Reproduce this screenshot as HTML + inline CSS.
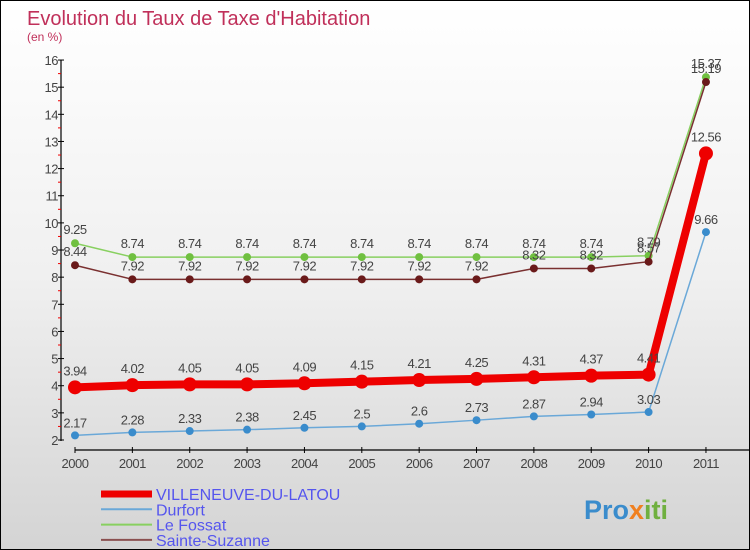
<!DOCTYPE html>
<html><head><meta charset="utf-8"><style>
body{margin:0}
#c{width:748px;height:548px;border:1px solid #000;background:linear-gradient(#fff,#f0f0f0 50%,#d4d4d4);position:relative;overflow:hidden;font-family:"Liberation Sans",sans-serif}
</style></head><body>
<div id="c">
<svg id="s" width="748" height="548" xmlns="http://www.w3.org/2000/svg"></svg>
</div>
<script>
const years=["2000","2001","2002","2003","2004","2005","2006","2007","2008","2009","2010","2011"];
const villeneuve=[3.94,4.02,4.05,4.05,4.09,4.15,4.21,4.25,4.31,4.37,4.41,12.56];
const durfort=[2.17,2.28,2.33,2.38,2.45,2.5,2.6,2.73,2.87,2.94,3.03,9.66];
const lefossat=[9.25,8.74,8.74,8.74,8.74,8.74,8.74,8.74,8.74,8.74,8.79,15.37];
const sainteSuzanne=[8.44,7.92,7.92,7.92,7.92,7.92,7.92,7.92,8.32,8.32,8.57,15.19];
const yTicks=[2,3,4,5,6,7,8,9,10,11,12,13,14,15,16];
const s=document.getElementById('s');const NS="http://www.w3.org/2000/svg";
function X(i){return 74+i*57.36}
function Y(v){return 439-(v-2)*27.14}
function el(t,a,txt){const e=document.createElementNS(NS,t);for(const k in a)e.setAttribute(k,a[k]);if(txt!=null)e.textContent=txt;s.appendChild(e);return e}
let e;
e=el('text',{x:26,y:24,'font-size':20,fill:'#c0305a'},"Evolution du Taux de Taxe d'Habitation");

e=el('text',{x:26,y:40,'font-size':12,fill:'#c0305a'},"(en %)");

e=el('line',{x1:60,y1:59,x2:60,y2:440,stroke:'#000','stroke-width':1.2});

e=el('line',{x1:74,y1:449,x2:748,y2:449,stroke:'#000','stroke-width':1.2});

yTicks.forEach(v=>{
 el('line',{x1:57,x2:63,y1:Y(v),y2:Y(v),stroke:'#000'});
 if(v<16){el('line',{x1:57,x2:60,y1:Y(v+0.5),y2:Y(v+0.5),stroke:'#e00'});}
 e=el('text',{x:57,y:Y(v)+5,'font-size':13,fill:'#444','text-anchor':'end','letter-spacing':'-0.5'},String(v));
 
});
years.forEach((y,i)=>{
 el('line',{x1:X(i),x2:X(i),y1:446,y2:452,stroke:'#000'});
 e=el('text',{x:X(i),y:467,'font-size':13,fill:'#444','text-anchor':'middle','letter-spacing':'-0.5'},y);
 
});
function series(data,color,w,r,name,dotFill,off){
 e=el('polyline',{points:data.map((v,i)=>X(i)+','+Y(v)).join(' '),fill:'none',stroke:color,'stroke-width':w,'stroke-linejoin':'round'});
 
 data.forEach((v,i)=>{
  e=el('circle',{cx:X(i),cy:Y(v),r:r,fill:dotFill});
  
  e=el('text',{x:X(i),y:Y(v)-r-off,'font-size':13,fill:'#444','text-anchor':'middle','letter-spacing':'-0.5'},String(v));
  
 });
}
series(lefossat,'#88d060',1.5,4,'le-fossat','#70c040',5);
series(sainteSuzanne,'#7a3030',1.5,4,'sainte-suzanne','#6a1a1a',5);
series(durfort,'#6aa8d8',1.5,4,'durfort','#3a8ccc',4);
series(villeneuve,'#ee0000',8,7,'villeneuve','#ee0000',5);
const leg=[["VILLENEUVE-DU-LATOU","#ee0000",7],["Durfort","#6aa8d8",2],["Le Fossat","#88d060",2],["Sainte-Suzanne","#8a5050",2]];
leg.forEach((l,i)=>{
 const y=493+i*15.3;
 e=el('line',{x1:100,x2:151,y1:y,y2:y,stroke:l[1],'stroke-width':l[2]});
 
 e=el('text',{x:155,y:y+6,'font-size':16,fill:'#5555ee'},l[0]);
 
});
e=el('text',{x:583,y:518,'font-size':27,'font-weight':'bold',fill:'#3a8ccc'});

e.innerHTML='<tspan fill="#3a8ccc">Pro</tspan><tspan fill="#f08020">x</tspan><tspan fill="#70b040">iti</tspan>';
</script>
</body></html>
